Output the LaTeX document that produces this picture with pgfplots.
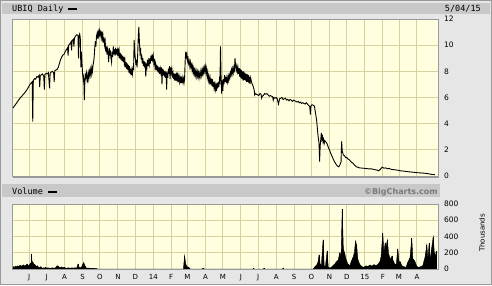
\documentclass[border=0pt]{standalone}
\usepackage{pgfplots}
\pgfplotsset{compat=1.18}
\usepackage{pgfplotstable}
\usepackage{fontspec}
\setmainfont{DejaVu Sans}
\newfontfamily\monofont{DejaVu Sans Mono}
\definecolor{outerbg}{HTML}{E6E6E6}
\definecolor{headbg}{HTML}{C8C8C8}
\definecolor{plotbg}{HTML}{FFFFE0}
\definecolor{gridc}{HTML}{D8D2A0}
\definecolor{framec}{HTML}{9A9A9A}
\definecolor{copyc}{HTML}{7A7A7A}

\pgfplotstableread{
day price
-28 5.20
-24 5.45
-20 5.70
-16 5.95
-12 6.15
-8 6.35
-4 6.60
0 6.90
2 7.05
4 7.15
5 7.20
6 4.15
7 7.30
9 7.45
11 7.40
13 7.60
15 7.55
17 7.70
18 6.80
19 7.65
21 7.75
23 7.80
25 7.60
26 6.60
27 7.75
29 7.85
31 7.80
33 7.90
35 6.70
36 7.85
38 7.95
40 8.00
42 7.90
43 7.20
44 8.05
46 8.10
48 8.15
50 8.30
52 8.60
54 8.90
56 9.10
58 9.25
60 9.30
62 9.50
64 9.65
66 9.80
67 9.20
68 10.00
70 10.10
72 10.25
73 9.60
74 10.35
76 10.45
77 9.90
78 10.55
80 10.70
82 10.80
84 10.75
85 9.00
86 10.70
87 10.85
88 10.60
89 8.30
90 9.50
91 8.60
92 7.80
93 7.40
94 7.60
95 5.80
96 7.30
97 7.70
98 7.45
99 7.90
100 7.60
101 7.10
102 7.85
103 7.55
104 8.00
105 7.70
106 8.15
107 7.80
108 8.30
109 8.00
110 8.45
111 8.70
112 9.10
113 9.80
114 10.30
115 9.90
116 10.70
117 10.90
118 10.50
119 11.00
120 10.70
121 11.10
122 10.80
123 11.00
124 10.60
125 11.05
126 10.50
127 10.80
128 10.20
129 10.60
130 10.00
131 10.30
132 9.50
133 9.90
134 9.30
135 9.70
136 9.40
137 8.70
138 9.80
139 9.20
140 9.60
141 9.00
142 8.70
143 9.50
144 9.10
145 9.90
146 9.30
147 9.70
148 9.20
149 9.80
150 9.30
151 9.70
152 9.20
153 9.80
154 9.30
155 9.60
156 9.00
157 9.40
158 8.90
159 9.30
160 8.80
161 9.20
162 8.70
163 9.10
164 8.60
165 8.90
166 8.30
167 8.70
168 8.20
169 8.60
170 8.10
171 8.50
172 7.90
173 8.40
174 7.80
175 8.20
176 7.70
177 8.10
178 7.80
179 8.30
180 8.20
181 10.40
182 9.40
183 9.00
184 8.50
185 8.90
186 8.30
187 9.20
188 10.50
189 11.40
190 10.30
191 9.50
192 9.80
193 8.90
194 9.30
195 8.60
196 9.00
197 8.40
198 8.80
199 8.30
200 8.70
201 7.60
202 8.60
203 8.30
204 8.90
205 8.40
206 8.80
207 8.50
208 9.00
209 8.60
210 9.20
211 8.80
212 9.30
213 8.90
214 9.20
215 8.60
216 8.80
217 8.30
218 8.60
219 8.10
220 8.50
221 8.00
222 8.40
223 7.90
224 8.30
225 7.80
226 8.20
227 7.90
228 8.30
229 7.00
230 8.20
231 7.70
232 8.10
233 7.60
234 8.00
235 7.50
236 8.00
237 6.60
238 7.90
239 7.50
240 8.20
241 7.80
242 8.40
243 7.40
244 8.30
245 7.90
246 8.20
247 7.70
248 7.90
249 7.40
250 7.85
251 7.30
252 7.80
253 7.30
254 7.90
255 7.40
256 7.70
257 7.20
258 7.60
259 7.20
260 7.55
261 7.10
262 7.60
263 7.10
264 7.50
265 7.20
266 7.45
267 7.10
268 7.40
269 8.80
270 9.50
271 9.10
272 9.30
273 8.80
274 9.00
275 8.60
276 8.80
277 8.40
278 8.70
279 8.30
280 8.50
281 8.10
282 8.40
283 7.90
284 8.20
285 7.80
286 8.10
287 7.70
288 8.00
289 7.60
290 7.95
291 7.60
292 7.90
293 7.50
294 7.85
295 7.60
296 8.00
297 7.70
298 8.10
299 7.80
300 8.20
301 7.90
302 8.30
303 8.00
304 8.35
305 7.90
306 8.20
307 7.60
308 7.90
309 7.30
310 7.60
311 7.20
312 7.50
313 7.00
314 7.45
315 6.90
316 7.40
317 6.80
318 7.20
319 6.70
320 7.00
321 6.60
322 6.95
323 6.50
324 7.10
325 6.70
326 7.20
327 6.80
328 7.30
329 7.00
330 9.90
331 7.50
332 6.30
333 7.30
334 6.50
335 7.40
336 7.00
337 7.70
338 7.20
339 7.60
340 7.10
341 7.50
342 7.20
343 7.60
344 7.30
345 7.70
346 7.50
347 7.90
348 7.70
349 8.10
350 7.80
351 8.20
352 7.90
353 8.30
354 8.10
355 9.00
356 8.40
357 8.10
358 8.40
359 8.00
360 8.30
361 7.80
362 8.25
363 7.60
364 8.20
365 7.50
366 8.10
367 7.40
368 8.00
369 7.30
370 8.00
371 7.35
372 7.90
373 7.30
374 7.80
375 7.20
376 7.80
377 7.20
378 7.70
379 7.10
380 7.60
381 7.05
382 7.50
384 7.10
386 6.90
388 6.60
389 6.20
390 6.30
392 6.25
394 6.20
396 6.15
398 6.30
400 6.25
401 5.95
402 6.10
404 6.15
406 6.30
408 6.25
410 6.30
412 6.20
414 6.10
416 6.15
418 6.10
420 6.05
421 5.80
422 6.00
424 5.95
426 6.00
428 5.90
430 5.50
432 5.90
434 5.95
436 6.00
438 5.85
440 5.90
442 5.95
444 5.80
446 5.85
448 5.75
450 5.85
452 5.80
454 5.70
456 5.80
458 5.75
460 5.70
462 5.65
464 5.70
466 5.60
468 5.65
470 5.55
472 5.60
474 5.55
476 5.50
478 5.60
480 5.50
482 5.40
484 5.30
485 4.70
486 5.35
488 5.45
490 5.40
492 5.35
494 4.80
496 4.20
498 3.20
500 2.50
501 1.10
502 2.30
504 3.30
505 2.80
506 3.00
507 2.60
508 2.80
509 2.50
510 2.70
512 2.60
514 2.45
516 2.20
518 2.00
520 1.75
522 1.55
524 1.35
526 1.15
528 1.00
530 0.85
532 0.75
534 0.70
536 0.85
538 1.10
539 2.65
540 1.90
542 1.60
544 1.55
546 1.40
548 1.40
550 1.30
552 1.25
554 1.15
556 1.05
558 1.00
560 0.90
562 0.80
564 0.72
566 0.68
568 0.65
570 0.62
575 0.60
580 0.58
585 0.55
590 0.55
595 0.50
600 0.45
603 0.40
606 0.52
609 0.68
612 0.60
615 0.62
618 0.55
621 0.58
625 0.50
630 0.48
635 0.45
640 0.40
645 0.38
650 0.35
655 0.32
660 0.30
665 0.28
670 0.25
675 0.24
680 0.22
685 0.20
690 0.16
695 0.12
700 0.10
}\pricetable

\pgfplotstableread{
day vol
-28 30
-26 20
-24 35
-22 25
-20 40
-18 30
-16 45
-14 35
-12 40
-10 50
-8 35
-6 45
-4 60
-2 40
0 50
2 70
3 20
4 180
5 30
6 90
8 60
10 50
12 30
14 40
16 20
18 15
20 30
22 10
24 15
26 10
28 20
30 10
32 15
34 10
36 12
38 10
40 15
42 10
44 12
46 20
48 40
50 35
52 20
54 15
56 25
58 15
60 20
62 15
64 10
66 12
68 15
70 10
72 12
74 15
76 10
78 15
82 12
84 60
86 20
88 15
90 20
92 55
94 80
96 40
98 15
100 10
104 10
110 8
116 5
118 0
266 0
268 165
270 60
272 30
274 25
276 15
278 0
298 0
300 10
302 0
386 0
387 10
388 0
404 0
405 10
406 0
437 0
438 12
439 0
490 0
493 30
496 50
498 80
500 170
502 60
504 40
507 360
509 40
511 30
514 220
516 20
518 15
520 15
524 40
527 60
530 90
533 110
536 200
538 150
540 740
542 250
544 200
547 110
550 60
553 40
556 100
558 130
561 200
563 345
565 290
567 120
570 60
574 30
577 20
581 40
584 30
588 50
591 35
595 55
598 40
602 60
605 90
607 150
610 443
612 200
614 315
615 250
618 357
620 190
623 120
626 160
628 100
631 60
633 40
636 250
638 90
640 90
643 40
646 30
650 20
653 80
657 140
660 380
662 120
665 100
669 30
672 20
676 30
679 40
683 150
686 300
688 120
690 320
692 100
694 240
697 394
699 200
701 150
702 220
703 100
}\voltable

\pgfplotsset{
  chartstyle/.style={
    scale only axis, width=425.3pt,
    xmin=-28.6, xmax=705.3,
    axis background/.style={fill=plotbg},
    axis line style={framec, line width=0.8pt},
    grid=major, major grid style={gridc, line width=1pt},
    tick style={draw=none},
    xtick={0,30,61,92,122,153,183,214,245,273,304,334,365,395,426,457,487,518,548,579,610,638,669},
    yticklabel pos=right,
    yticklabel style={font=\fontsize{7.5}{8}\selectfont, anchor=west, inner sep=0pt, xshift=6pt},
    /pgf/number format/assume math mode=true,
  }
}

\begin{document}
\begin{tikzpicture}
\useasboundingbox (0pt,0pt) rectangle (492pt,285pt);
\fill[outerbg] (0pt,0pt) rectangle (492pt,285pt);
\draw[framec, line width=1pt] (0.5pt,0.5pt) rectangle (491.5pt,284.5pt);
% header bars
\fill[headbg] (2pt,271pt) rectangle (490pt,282pt);
\node[anchor=base west, font=\monofont\fontsize{8.5}{9}\selectfont, inner sep=0pt] at (12pt,273.5pt) {UBIQ Daily};
\fill[black] (68pt,275.5pt) rectangle (77pt,277.5pt);
\node[anchor=base east, font=\monofont\fontsize{8.5}{9}\selectfont, inner sep=0pt] at (481pt,273.5pt) {5/04/15};
\fill[headbg] (2pt,88pt) rectangle (440pt,101pt);
\node[anchor=base west, font=\monofont\fontsize{8.5}{9}\selectfont, inner sep=0pt] at (12pt,91pt) {Volume};
\fill[black] (48pt,92.5pt) rectangle (57pt,94.5pt);
\node[anchor=base east, font=\bfseries\fontsize{8}{9}\selectfont, text=copyc, inner sep=0pt] at (438pt,90.5pt) {©BigCharts.com};
\node[rotate=90, font=\fontsize{7}{8}\selectfont, inner sep=0pt] at (482pt,52pt) {Thousands};

\begin{axis}[chartstyle,
  at={(12.7pt,109pt)}, anchor=south west, height=157pt,
  ymin=0, ymax=12, ytick={0,2,...,12},
  xticklabels={},
]
\addplot[black, line width=0.9pt] table[x=day, y=price] {\pricetable};
\end{axis}
\draw[framec, line width=2pt] (12.7pt,108pt) -- (438.5pt,108pt);

\begin{axis}[chartstyle,
  at={(12.7pt,16pt)}, anchor=south west, height=65pt,
  ymin=0, ymax=800, ytick={0,200,...,800},
  xticklabels={J,J,A,S,O,N,D,14,F,M,A,M,J,J,A,S,O,N,D,15,F,M,A},
  xticklabel style={font=\fontsize{7}{8}\selectfont, anchor=north, inner sep=0pt, yshift=-5pt},
]
\addplot[fill=black, draw=black, line width=0.4pt] table[x=day, y=vol] {\voltable} \closedcycle;
\addplot[ycomb, black, line width=0.8pt] table[x=day, y=vol] {\voltable};
\end{axis}
\draw[framec, line width=1.5pt] (12.7pt,15.5pt) -- (438.5pt,15.5pt);
\end{tikzpicture}
\end{document}
